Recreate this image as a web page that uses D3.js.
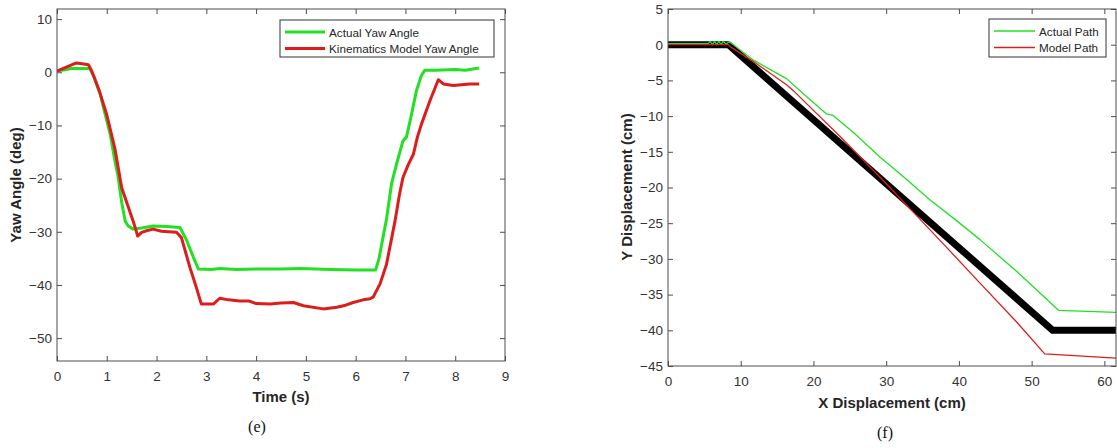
<!DOCTYPE html>
<html>
<head>
<meta charset="utf-8">
<script src="https://cdn.jsdelivr.net/npm/d3@7"></script>
<style>
	body { margin: 0; background: #fff; }
	svg { display: block; font-family: "Liberation Sans", Arial, sans-serif; }
</style>
</head>
<body>
<svg id="svg" width="1117" height="448"></svg>
<script>
"use strict";

// (e) yaw angle vs time, [time s, angle deg]
const actualYaw = [
	[0, 0.2], [0.1, 0.4], [0.3, 0.7], [0.5, 0.7], [0.66, 0.7], [0.75, -1], [0.87, -4.2],
	[0.97, -8], [1.07, -11.7], [1.15, -16], [1.23, -19.8], [1.3, -24.5], [1.37, -28],
	[1.43, -28.9], [1.53, -29.5], [1.7, -29.3], [1.93, -28.9], [2.2, -29], [2.47, -29.2],
	[2.6, -31.5], [2.74, -34.8], [2.84, -37], [3.1, -37.1], [3.27, -36.9], [3.6, -37.1],
	[4.0, -37], [4.5, -37], [4.9, -36.9], [5.5, -37.1], [6.0, -37.2], [6.4, -37.2],
	[6.47, -35], [6.55, -31], [6.62, -27.6], [6.72, -21], [6.82, -17.3], [6.95, -12.9],
	[7.02, -12.2], [7.12, -8], [7.22, -3.5], [7.32, -0.6], [7.39, 0.4], [7.6, 0.4],
	[8.0, 0.5], [8.2, 0.4], [8.48, 0.8]
];
const modelYaw = [
	[0, 0.2], [0.2, 1], [0.39, 1.75], [0.5, 1.6], [0.63, 1.4], [0.7, 0.2], [0.85, -3.5],
	[1.0, -8], [1.16, -14.2], [1.3, -21.7], [1.42, -25], [1.53, -28], [1.58, -29.5],
	[1.62, -30.8], [1.7, -30.1], [1.8, -29.8], [1.93, -29.5], [2.1, -29.9], [2.4, -30.1],
	[2.5, -31.1], [2.67, -36.7], [2.8, -40.5], [2.9, -43.6], [3.14, -43.6], [3.27, -42.5],
	[3.45, -42.8], [3.67, -43], [3.85, -43], [4.0, -43.5], [4.28, -43.6], [4.5, -43.4],
	[4.75, -43.3], [4.95, -43.9], [5.35, -44.5], [5.62, -44.2], [5.8, -43.8], [5.95, -43.3],
	[6.15, -42.8], [6.29, -42.6], [6.35, -42.3], [6.49, -39.8], [6.62, -36.1], [6.79, -28],
	[6.88, -23], [6.95, -19.8], [7.05, -17.5], [7.16, -15.4], [7.24, -12.2], [7.32, -9.8],
	[7.49, -5.4], [7.66, -1.4], [7.76, -2.2], [7.96, -2.5], [8.29, -2.2], [8.48, -2.2]
];

// (f) path, [x cm, y cm]
const referencePath = [[0, 0], [8.3, 0], [52.9, -40], [61.6, -40]];
const actualPath = [
	[0, 0.15], [5.5, 0.15], [5.8, 0.45], [6.1, 0.0], [6.4, 0.45], [6.7, 0.0], [7.0, 0.45],
	[7.3, 0.05], [7.6, 0.45], [8.0, 0.1], [8.4, 0.4], [9, 0], [11.8, -2.2], [16.3, -4.75],
	[18.1, -6.4], [21.8, -9.7], [22.7, -9.9], [25.5, -12.3], [29.1, -15.7], [32.5, -18.6],
	[36, -21.7], [39.5, -24.5], [42.9, -27.3], [48, -31.8], [53.4, -36.9], [53.7, -37.2],
	[61.6, -37.5]
];
const modelPath = [
	[0, 0], [8.3, 0], [8.6, -0.3], [11.8, -2.4], [16.3, -5.6], [17.2, -6.4], [20, -9.2],
	[23.7, -12.9], [26.4, -15.7], [29.1, -18.5], [34.7, -24.5], [38.5, -28.6], [42.9, -33.4],
	[48, -38.9], [51.8, -43.3], [61.6, -43.9]
];

const yawTicksX = d3.range(0, 10, 1);
const yawTicksY = [-50, -40, -30, -20, -10, 0, 10];
const pathTicksX = [0, 10, 20, 30, 40, 50, 60];
const pathTicksY = d3.range(-45, 10, 5);

const svg = d3.select("#svg");
const axisColor = "#4d4d4d";
const green = "#22e022";
const red = "#dd1c1c";

// draw one boxed matlab-style panel
function panel(opts) {
	const x = d3.scaleLinear().domain(opts.xDomain).range([opts.left, opts.right]);
	const y = d3.scaleLinear().domain(opts.yDomain).range([opts.bottom, opts.top]);
	const g = svg.append("g");
	const w = opts.right - opts.left;
	const h = opts.bottom - opts.top;

	const styleAxis = (sel) => {
		sel.select(".domain").remove();
		sel.selectAll(".tick line").attr("stroke", axisColor);
		sel.selectAll(".tick text")
			.attr("fill", "#333")
			.attr("font-size", "13.5px")
			.attr("font-family", "Liberation Sans, Arial, sans-serif");
	};

	g.append("g").attr("transform", `translate(0,${opts.bottom})`)
		.call(d3.axisBottom(x).tickValues(opts.xTicks).tickSize(-5).tickPadding(10).tickFormat(d3.format("d")))
		.call(styleAxis);
	g.append("g").attr("transform", `translate(0,${opts.top})`)
		.call(d3.axisTop(x).tickValues(opts.xTicks).tickSize(-5).tickFormat(""))
		.call(styleAxis);
	g.append("g").attr("transform", `translate(${opts.left},0)`)
		.call(d3.axisLeft(y).tickValues(opts.yTicks).tickSize(-5).tickPadding(5).tickFormat(d3.format("d")))
		.call(styleAxis);
	g.append("g").attr("transform", `translate(${opts.right},0)`)
		.call(d3.axisRight(y).tickValues(opts.yTicks).tickSize(-5).tickFormat(""))
		.call(styleAxis);

	// clip lines to the box
	g.append("clipPath").attr("id", opts.id + "clip")
		.append("rect").attr("x", opts.left).attr("y", opts.top).attr("width", w).attr("height", h);
	const lines = g.append("g").attr("clip-path", `url(#${opts.id}clip)`);
	const line = d3.line().x((d) => x(d[0])).y((d) => y(d[1]));
	opts.series.forEach((s) => {
		lines.append("path")
			.datum(s.data)
			.attr("d", line)
			.attr("fill", "none")
			.attr("stroke", s.color)
			.attr("stroke-width", s.width)
			.attr("stroke-linejoin", "round");
	});

	g.append("rect")
		.attr("x", opts.left).attr("y", opts.top).attr("width", w).attr("height", h)
		.attr("fill", "none").attr("stroke", axisColor).attr("stroke-width", 1);

	// axis titles
	g.append("text")
		.text(opts.xLabel)
		.attr("x", opts.xLabelPos[0]).attr("y", opts.xLabelPos[1])
		.attr("text-anchor", "middle")
		.attr("font-weight", "bold").attr("font-size", "15px").attr("fill", "#262626");
	g.append("text")
		.text(opts.yLabel)
		.attr("transform", `translate(${opts.yLabelPos[0]},${opts.yLabelPos[1]}) rotate(-90)`)
		.attr("text-anchor", "middle")
		.attr("font-weight", "bold").attr("font-size", "15px").attr("fill", "#262626");

	// legend
	const lg = g.append("g").attr("transform", `translate(${opts.legend.x},${opts.legend.y})`);
	lg.append("rect")
		.attr("width", opts.legend.w).attr("height", opts.legend.h)
		.attr("fill", "#fff").attr("stroke", "#333").attr("stroke-width", 1);
	opts.series.filter((s) => s.label).forEach((s, i) => {
		const ly = 12 + i * 16.5;
		lg.append("line")
			.attr("x1", 5).attr("x2", opts.legend.lineLen + 5)
			.attr("y1", ly).attr("y2", ly)
			.attr("stroke", s.color).attr("stroke-width", s.width);
		lg.append("text")
			.text(s.label)
			.attr("x", opts.legend.lineLen + 9).attr("y", ly + 4.5)
			.attr("font-size", "11.7px").attr("fill", "#262626");
	});

	svg.append("text")
		.text(opts.caption)
		.attr("x", opts.captionPos[0]).attr("y", opts.captionPos[1])
		.attr("text-anchor", "middle")
		.attr("font-family", "Liberation Serif, Times New Roman, serif")
		.attr("font-size", "16px").attr("fill", "#111");
}

panel({
	id: "yaw",
	left: 57, right: 505, top: 9, bottom: 361,
	xDomain: [0, 9], yDomain: [-54.3, 11.9],
	xTicks: yawTicksX, yTicks: yawTicksY,
	xLabel: "Time (s)", xLabelPos: [281, 402],
	yLabel: "Yaw Angle (deg)", yLabelPos: [21, 185],
	legend: { x: 280, y: 20, w: 214, h: 37, lineLen: 40 },
	series: [
		{ data: actualYaw, color: green, width: 3, label: "Actual Yaw Angle" },
		{ data: modelYaw, color: red, width: 3, label: "Kinematics Model Yaw Angle" }
	],
	caption: "(e)", captionPos: [257, 432]
});

panel({
	id: "path",
	left: 668, right: 1116, top: 9, bottom: 366,
	xDomain: [0, 61.6], yDomain: [-45, 5],
	xTicks: pathTicksX, yTicks: pathTicksY,
	xLabel: "X Displacement (cm)", xLabelPos: [892, 408],
	yLabel: "Y Displacement (cm)", yLabelPos: [632, 187],
	legend: { x: 989, y: 19, w: 117, h: 38, lineLen: 41 },
	series: [
		{ data: referencePath, color: "#000", width: 7 },
		{ data: actualPath, color: green, width: 1.3, label: "Actual Path" },
		{ data: modelPath, color: red, width: 1.3, label: "Model Path" }
	],
	caption: "(f)", captionPos: [885, 438]
});
</script>
</body>
</html>
